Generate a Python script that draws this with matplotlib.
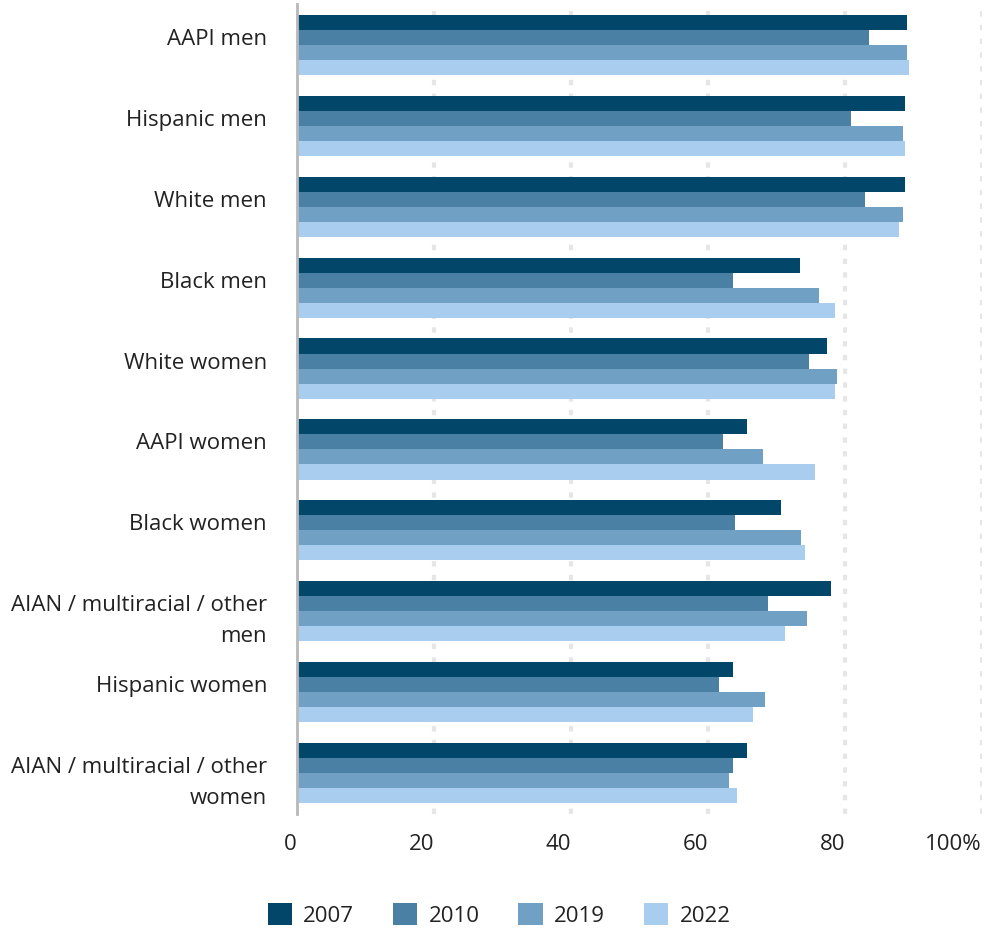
import matplotlib
matplotlib.use("Agg")
import matplotlib.pyplot as plt
import matplotlib.transforms as mtransforms
import numpy as np

plt.rcParams['font.family'] = ['Open Sans', 'DejaVu Sans']

categories = [
    "AAPI men",
    "Hispanic men",
    "White men",
    "Black men",
    "White women",
    "AAPI women",
    "Black women",
    "AIAN / multiracial / other\nmen",
    "Hispanic women",
    "AIAN / multiracial / other\nwomen",
]
years = ["2007", "2010", "2019", "2022"]
v2007 = [89.1, 88.8, 88.8, 73.4, 77.4, 65.7, 70.7, 78.0, 63.7, 65.7]
v2010 = [83.5, 80.9, 82.9, 63.7, 74.8, 62.2, 64.0, 68.7, 61.6, 63.7]
v2019 = [89.1, 88.5, 88.5, 76.2, 78.9, 68.1, 73.6, 74.5, 68.3, 63.1]
v2022 = [89.4, 88.8, 87.9, 78.6, 78.6, 75.6, 74.2, 71.3, 66.6, 64.3]
series = [v2007, v2010, v2019, v2022]
colors = ["#02466A", "#4A80A3", "#70A0C3", "#A9CDEF"]
xticks = [0, 20, 40, 60, 80, 100]
xticklabels = ["0", "20", "40", "60", "80", "100%"]

W, H, DPI = 986, 930, 100
FS = 16
fig = plt.figure(figsize=(W / DPI, H / DPI), dpi=DPI)
ax = fig.add_axes([297 / W, (H - 813.5) / H, (982 - 297) / W, 809 / H])

n = len(categories)
y = np.arange(n)
bh = 0.186
for i, (vals, c) in enumerate(zip(series, colors)):
    ax.barh(y + (i - 1.5) * bh, vals, height=bh, color=c, label=years[i],
            zorder=3, linewidth=0)

ax.set_ylim(n - 0.5, -0.5)
ax.set_xlim(0, 100)

# grid
for xv in xticks[1:]:
    ax.axvline(xv, color="#e6e6e6", lw=3.0, linestyle=(0, (1.3, 2.0)), zorder=1)

for s in ["top", "right", "bottom"]:
    ax.spines[s].set_visible(False)
ax.spines["left"].set_color("#b8b8b8")
ax.spines["left"].set_linewidth(2)
ax.spines["left"].set_zorder(4)

ax.set_xticks(xticks)
ax.set_xticklabels(xticklabels, fontsize=FS, color="#222222")
for lab in ax.get_xticklabels():
    lab.set_horizontalalignment("right")
ax.tick_params(axis="x", length=0, pad=15)

ax.set_yticks([])
trans = mtransforms.blended_transform_factory(fig.transFigure, ax.transData)
off = mtransforms.ScaledTranslation(0, 16 / DPI, fig.dpi_scale_trans)
for yi, lab in zip(y, categories):
    ax.text(267 / W, yi, lab, transform=trans + off, ha="right", va="top",
            fontsize=FS, color="#222222", linespacing=1.62, multialignment="right")

leg = fig.legend(loc="center", bbox_to_anchor=(499 / W, (H - 915) / H), ncol=4,
                 frameon=False, fontsize=FS, handlelength=1.1, handleheight=1.1,
                 handletextpad=0.5, columnspacing=1.75, labelcolor="#222222")

fig.savefig("out.png", dpi=DPI)
